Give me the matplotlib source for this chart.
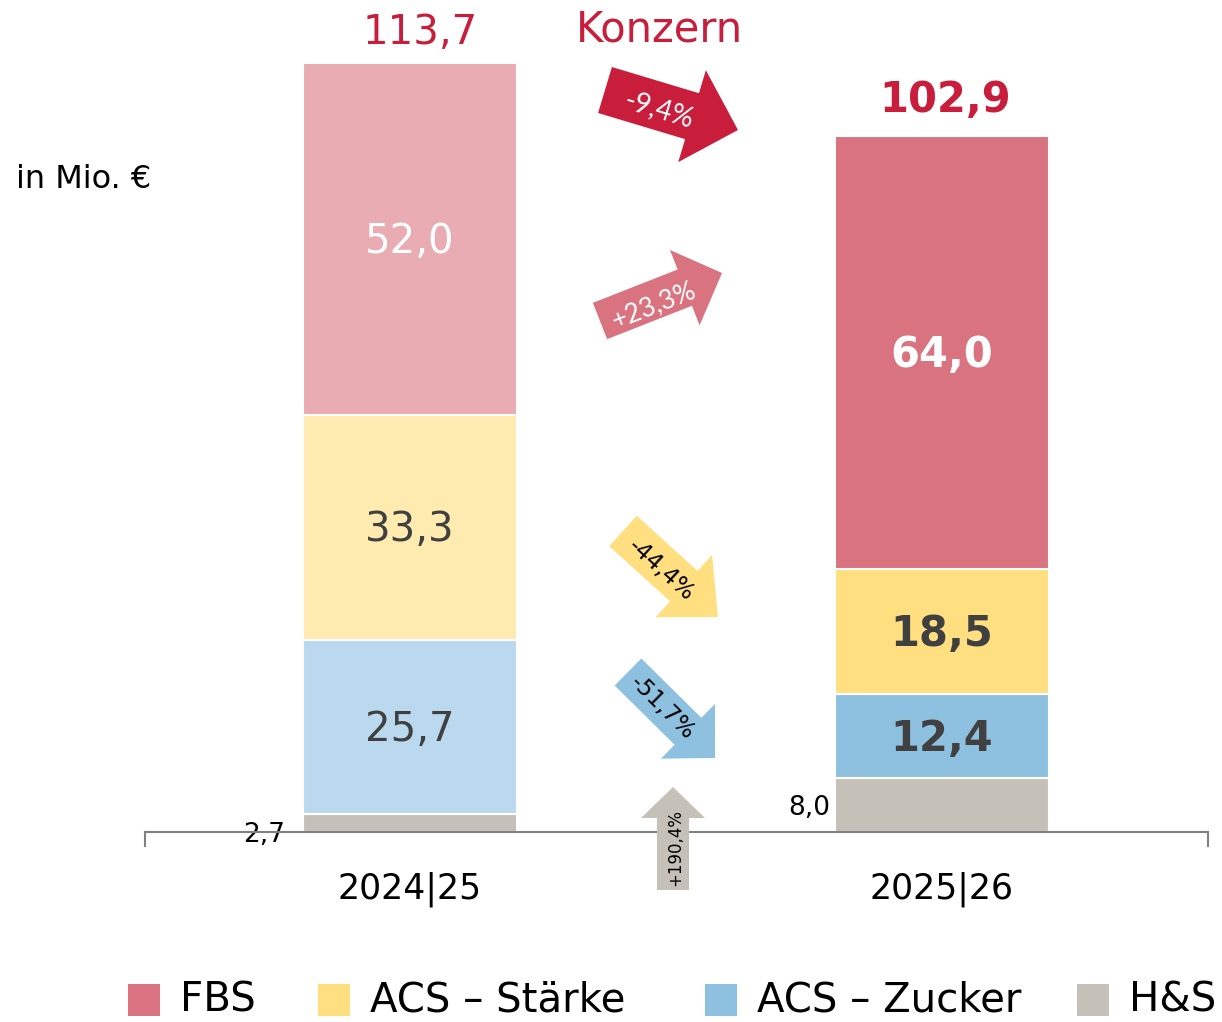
import matplotlib
matplotlib.use("Agg")
import matplotlib.pyplot as plt
import numpy as np
from matplotlib.patches import Polygon, Rectangle

plt.rcParams['font.family'] = ['DejaVu Sans']

# ---------------- data ----------------
years = ["2024|25", "2025|26"]
segments = ["H&S", "ACS – Zucker", "ACS – Stärke", "FBS"]
hs = [2.7, 8.0]
zucker = [25.7, 12.4]
staerke = [33.3, 18.5]
fbs = [52.0, 64.0]
totals = [113.7, 102.9]
changes = {"FBS": "+23,3%", "ACS – Stärke": "-44,4%", "ACS – Zucker": "-51,7%", "H&S": "+190,4%"}
total_change = "-9,4%"
legend_labels = ["FBS", "ACS – Stärke", "ACS – Zucker", "H&S"]

RED = "#C81E3C"
DARK = "#404040"
colors_old = {"FBS": "#E9ACB2", "ACS – Stärke": "#FFEAB0", "ACS – Zucker": "#BBD9EE", "H&S": "#C5C0B8"}
colors_new = {"FBS": "#D97380", "ACS – Stärke": "#FFDF80", "ACS – Zucker": "#8EC0E0", "H&S": "#C5C0B8"}

W, H = 1222, 1022
fig = plt.figure(figsize=(W / 100, H / 100), dpi=100)
ax = fig.add_axes([0, 0, 1, 1])
# pixel mapping: baseline at y=832 px, 6.764 px per unit; bar centres at 410 / 942 px
ppu = 769 / 113.7
ax.set_ylim(-(H - 832) / ppu, 832 / ppu)
ax.set_xlim(-410 / 532, (W - 410) / 532)
ax.axis("off")

x = np.arange(len(years))
bw = 214 / 532
dy = 3 / ppu  # small optical offset of text
series = {"H&S": hs, "ACS – Zucker": zucker, "ACS – Stärke": staerke, "FBS": fbs}
bottom = np.zeros(len(years))
for seg in segments:
    vals = np.array(series[seg])
    for i in range(len(years)):
        c = colors_old[seg] if i == 0 else colors_new[seg]
        ax.bar(x[i], vals[i], bw, bottom=bottom[i], color=c, edgecolor="white", linewidth=1.5, zorder=2)
        mid = bottom[i] + vals[i] / 2
        if seg == "H&S":
            if i == 0:
                ax.text(x[i] - bw / 2 - 18 / 532, -dy, f"{vals[i]:.1f}".replace(".", ","),
                        ha="right", va="center", fontsize=19, color="black")
            else:
                ax.text(x[i] - bw / 2 - 5 / 532, mid - dy, f"{vals[i]:.1f}".replace(".", ","),
                        ha="right", va="center", fontsize=19, color="black")
        else:
            tc = "white" if seg == "FBS" else DARK
            ax.text(x[i], mid - dy, f"{vals[i]:.1f}".replace(".", ","), ha="center", va="center",
                    fontsize=30 if i == 1 else 29, color=tc,
                    fontweight="bold" if i == 1 else "normal", zorder=3)
    bottom += vals

# totals
ax.text(x[0] + 10 / 532, totals[0] + 30 / ppu, f"{totals[0]:.1f}".replace(".", ","), ha="center",
        va="center", fontsize=29, color=RED)
ax.text(x[1] + 3 / 532, totals[1] + 36 / ppu, f"{totals[1]:.1f}".replace(".", ","), ha="center",
        va="center", fontsize=30, color=RED, fontweight="bold")

# category labels
for i, yl in enumerate(years):
    ax.text(x[i], -57 / ppu, yl, ha="center", va="center", fontsize=25, color="black")

# overlay in pixel coordinates for annotations
ov = fig.add_axes([0, 0, 1, 1], facecolor="none")
ov.set_xlim(0, W)
ov.set_ylim(H, 0)
ov.axis("off")

# axis line with end ticks
ov.plot([145, 1208], [832, 832], color="#808080", lw=1.5, zorder=1)
ov.plot([145, 145], [832, 846], color="#808080", lw=1.5)
ov.plot([1208, 1208], [832, 846], color="#808080", lw=1.5)

ov.text(659, 29, "Konzern", ha="center", va="center", fontsize=30, color=RED)
ov.text(16, 179, "in Mio. €", ha="left", va="center", fontsize=23, color="black")


def arrow(tail, tip, bwid, hwid, hlen, color, label, tcolor, tpos, fs, family, rot=None):
    tail = np.array(tail, float)
    tip = np.array(tip, float)
    d = tip - tail
    L = np.hypot(*d)
    u = d / L
    n = np.array([-u[1], u[0]])
    base = tip - u * hlen
    pts = [tail + n * bwid / 2, base + n * bwid / 2, base + n * hwid / 2, tip,
           base - n * hwid / 2, base - n * bwid / 2, tail - n * bwid / 2]
    ov.add_patch(Polygon(pts, closed=True, facecolor=color, edgecolor="none", zorder=3))
    if rot is None:
        rot = -np.degrees(np.arctan2(d[1], d[0]))
    ov.text(tpos[0], tpos[1], label, ha="center", va="center", rotation=rot,
            rotation_mode="anchor", fontsize=fs, color=tcolor, family=family, zorder=4)


arrow((605, 90), (738, 130), 48, 96, 48, RED, total_change, "white", (659, 110), 20, ["Lato"])
arrow((600, 321), (722, 273), 39, 81, 40, colors_new["FBS"], changes["FBS"], "white", (654, 305), 19, ["Lato"])
arrow((623, 531), (718, 617), 41, 84, 46, colors_new["ACS – Stärke"], changes["ACS – Stärke"], "black",
      (661, 570), 16.5, ["DejaVu Sans"])
arrow((628, 672), (715, 758), 38, 77, 38, colors_new["ACS – Zucker"], changes["ACS – Zucker"], "black",
      (662, 708), 16.5, ["DejaVu Sans"])
arrow((673, 890), (673, 787), 32, 64, 31, colors_new["H&S"], changes["H&S"], "black",
      (675, 848), 12, ["DejaVu Sans"], rot=90)

# legend
leg_sq_x = [128, 318, 705, 1077]
for lx, lab in zip(leg_sq_x, legend_labels):
    ov.add_patch(Rectangle((lx, 984), 32, 32, facecolor=colors_new[lab], edgecolor="none"))
    ov.text(lx + 52, 1001, lab, ha="left", va="center", fontsize=29, color="black")

fig.savefig("out.png", dpi=100)
